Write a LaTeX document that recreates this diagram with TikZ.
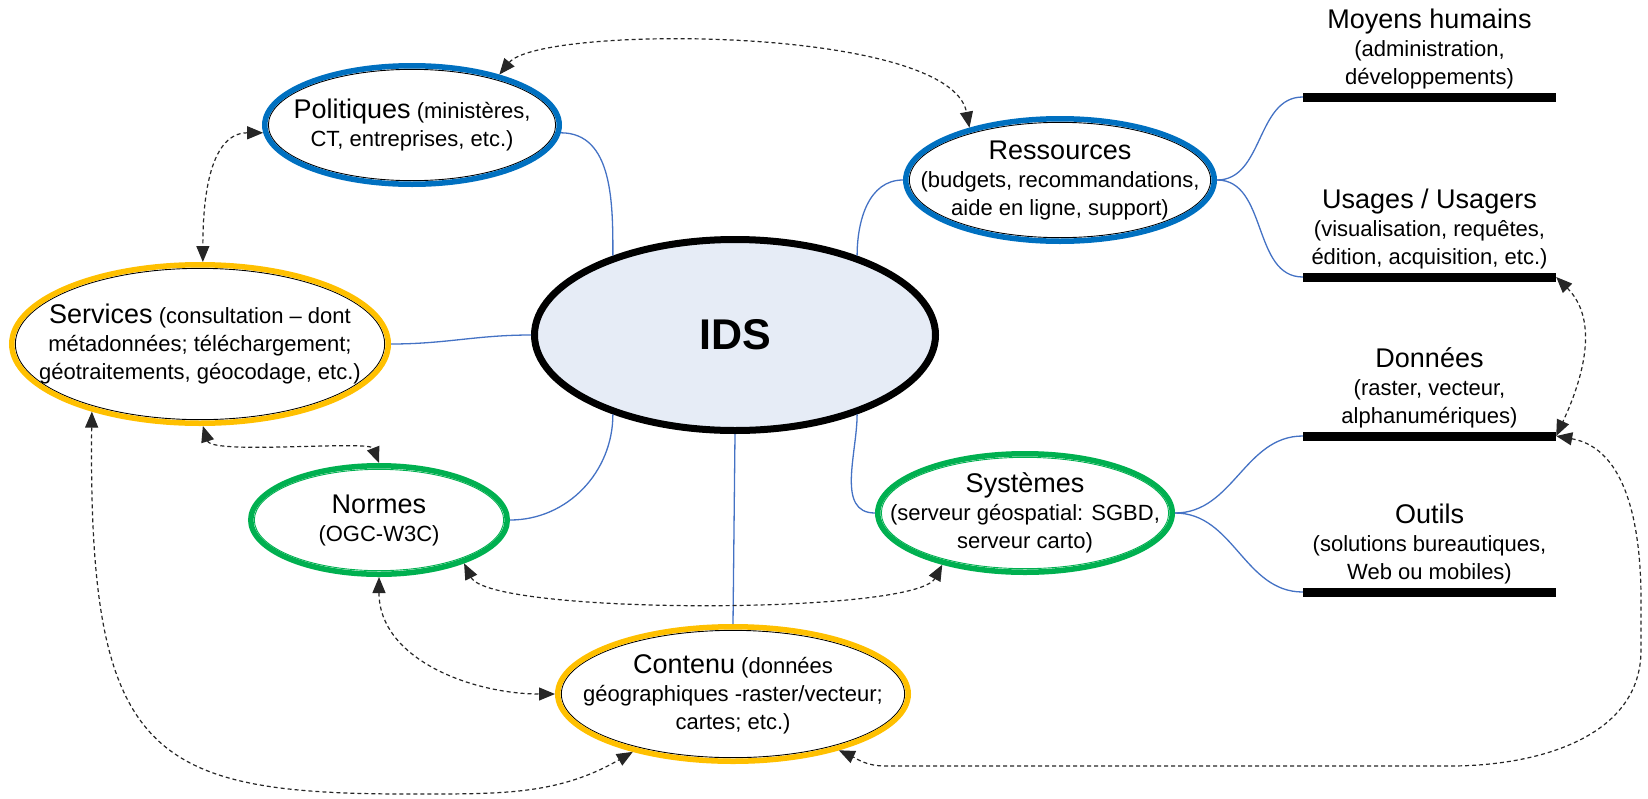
\documentclass[tikz,border=0pt]{standalone}
\usepackage{fontspec}
\setmainfont{Liberation Sans}
\usetikzlibrary{arrows.meta, positioning, shapes.geometric, calc}

\definecolor{ringblue}{HTML}{0070C0}
\definecolor{ringorange}{HTML}{FFC000}
\definecolor{ringgreen}{HTML}{00B050}
\definecolor{wireblue}{HTML}{4472C4}
\definecolor{idsfill}{HTML}{E6ECF6}

\newcommand{\bubfont}{\fontsize{22}{28}\selectfont}
\newcommand{\titre}[1]{{\fontsize{27}{28}\selectfont #1}}
% thin line just inside the ring
\newcommand{\innerline}[1]{\draw[#1, line width=0.9pt]
    let \p1=($(path picture bounding box.north east)-(path picture bounding box.center)$) in
    (path picture bounding box.center) ellipse [x radius=\x1-3.6pt, y radius=\y1-3.6pt];}

\tikzset{
    ring/.style 2 args={ellipse, draw=#1, line width=5.5pt, fill=white, inner sep=-40pt, align=center, font=\bubfont,
        path picture={\innerline{#2}}},
    core/.style={ellipse, draw=black, line width=7pt, fill=idsfill, inner sep=0pt, font=\fontsize{43}{48}\selectfont\bfseries},
    wire/.style={wireblue, line width=1.3pt},
    link/.style={black!85, line width=1.2pt, dash pattern=on 4pt off 3pt, arrows={Triangle[length=16pt,width=13pt]-Triangle[length=16pt,width=13pt]}},
    bar/.style={fill=black, minimum width=253pt, minimum height=9pt, inner sep=0pt},
    side/.style={align=center, inner sep=0pt, font=\bubfont},
}

\begin{document}
\begin{tikzpicture}[x=1pt, y=1pt]
    \useasboundingbox (0,0) rectangle (1648,-798);
    % centre
    \node[core, minimum width=401pt, minimum height=191pt] (ids) at (735,-335) {IDS};
    % bubbles
    \node[ring={ringblue}{black}, minimum width=294.5pt, minimum height=118.5pt] (pol) at (412,-125) {\titre{Politiques} (ministères,\\CT, entreprises, etc.)};
    \node[ring={ringblue}{black}, minimum width=308.5pt, minimum height=122.5pt] (res) at (1060,-180) {\titre{Ressources}\\(budgets, recommandations,\\aide en ligne, support)};
    \node[ring={ringorange}{black}, minimum width=376.5pt, minimum height=158.5pt] (srv) at (200,-344) {\titre{Services} (consultation – dont\\métadonnées; téléchargement;\\géotraitements, géocodage, etc.)};
    \node[ring={ringgreen}{ringgreen}, minimum width=256.5pt, minimum height=108.5pt] (nor) at (379,-520) {\titre{Normes}\\(OGC-W3C)};
    \node[ring={ringgreen}{ringgreen}, minimum width=294.5pt, minimum height=118.5pt] (sys) at (1025,-513) {\titre{Systèmes}\\(serveur géospatial: SGBD,\\serveur carto)};
    \node[ring={ringorange}{black}, minimum width=350.5pt, minimum height=134.5pt] (con) at (733,-694) {\titre{Contenu} (données\\géographiques -raster/vecteur;\\cartes; etc.)};

    % side bars
    \foreach \nm/\yy in {moyens/97, usages/277, donnees/436, outils/592}
        \node[bar] (\nm) at (1429.5,-\yy) {};
    \node[side, above=3pt of moyens] (moyenslbl) {\titre{Moyens humains}\\(administration,\\développements)};
    \node[side, above=3pt of usages] (usageslbl) {\titre{Usages / Usagers}\\(visualisation, requêtes,\\édition, acquisition, etc.)};
    \node[side, above=3pt of donnees] (donneeslbl) {\titre{Données}\\(raster, vecteur,\\alphanumériques)};
    \node[side, above=3pt of outils] (outilslbl) {\titre{Outils}\\(solutions bureautiques,\\Web ou mobiles)};

    % blue wires
    \draw[wire] (pol.-3) to[out=0,in=90] (ids.147);
    \draw[wire] (res.west) to[out=180,in=90] (ids.33);
    \draw[wire] (srv.east) to[out=0,in=180] (ids.west);
    \draw[wire] (nor.east) to[out=0,in=-90] (ids.213);
    \draw[wire] (sys.west) to[out=180,in=-90] (ids.327);
    \draw[wire] (ids.south) -- (con.north);
    \foreach \a/\b in {res/moyens, res/usages, sys/donnees, sys/outils}
        \draw[wire] (\a.east) to[out=0,in=180] (\b.west);

    % dashed links
    \draw[link] (pol.30) .. controls (540,-25) and (950,-25) .. (res.150);
    \draw[link] (pol.183) to[out=180,in=90] (srv.88);
    \draw[link] (srv.272) .. controls (212,-455) and (370,-440) .. (nor.north);
    \draw[link] (srv.212) .. controls (88,-760) and (150,-795) .. (420,-794) to[out=0,in=210] (con.210);
    \draw[link] (nor.333) .. controls (490,-615) and (915,-615) .. (sys.212);
    \draw[link] (nor.south) to[out=-90,in=180] (con.west);
    \draw[link] (usages.east) to[out=-45,in=65] (donnees.east);
    \draw[link] (donnees.east) to[out=-10,in=90] (1641,-600) -- (1641,-650) to[out=-90,in=0] (1450,-766) -- (885,-766) to[out=180,in=-25] (con.332);
\end{tikzpicture}
\end{document}
